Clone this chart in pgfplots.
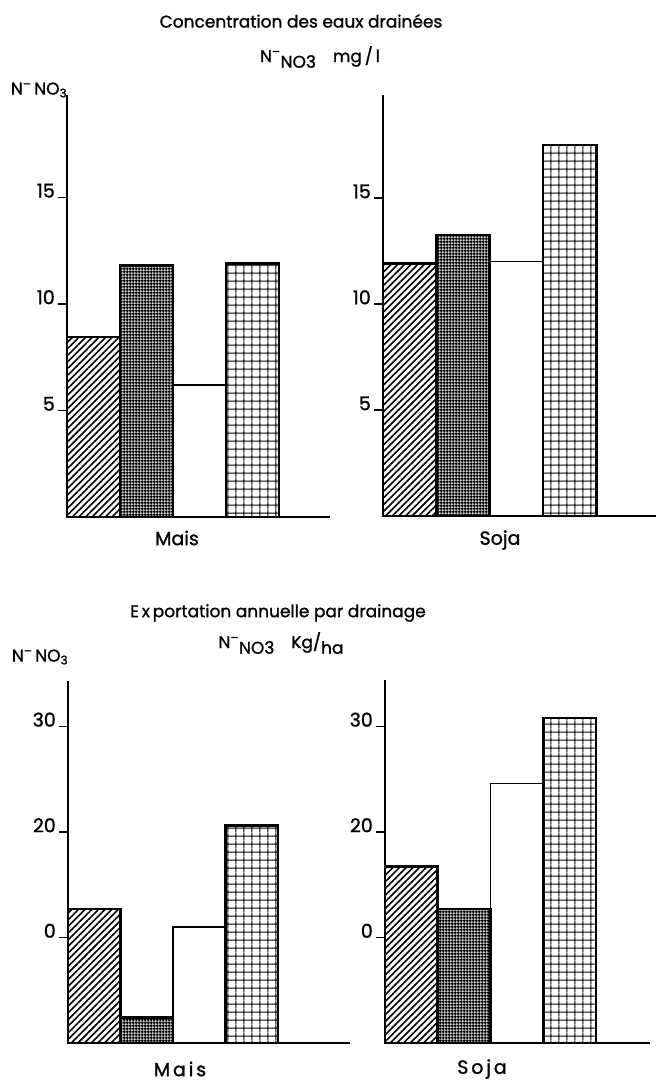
\documentclass[border=0pt]{standalone}
\usepackage{fontspec}
\setmainfont{Poppins}[FakeBold=1.2,AutoFakeBold=1.2]
\usepackage{graphicx}
\usepackage{pgfplots}
\pgfplotsset{compat=1.18}
\usetikzlibrary{patterns,patterns.meta}
\pgfdeclarepatternformonly{finegrid}{\pgfpointorigin}{\pgfqpoint{2.8pt}{2.8pt}}{\pgfqpoint{2.8pt}{2.8pt}}{%
  \pgfpathrectangle{\pgfqpoint{0pt}{0.6pt}}{\pgfqpoint{2.8pt}{1.6pt}}%
  \pgfpathrectangle{\pgfqpoint{0.6pt}{0pt}}{\pgfqpoint{1.6pt}{2.8pt}}%
  \pgfusepath{fill}}
\pgfdeclarepatternformonly{widegrid}{\pgfpointorigin}{\pgfqpoint{8.3pt}{8.3pt}}{\pgfqpoint{8.3pt}{8.3pt}}{%
  \pgfpathrectangle{\pgfqpoint{0pt}{3.55pt}}{\pgfqpoint{8.3pt}{1.2pt}}%
  \pgfpathrectangle{\pgfqpoint{3.55pt}{0pt}}{\pgfqpoint{1.2pt}{8.3pt}}%
  \pgfusepath{fill}}
\newcommand{\fs}{\fontsize{17}{20}\selectfont\bfseries}
\newcommand{\ft}{\fontsize{19}{22}\selectfont\bfseries}
\pgfplotsset{
  panel/.style={
    scale only axis, clip=false,
    axis x line=bottom, axis y line=left,
    axis line style={-, line width=2pt},
    xmin=0, ymin=0, xtick=\empty,
    ybar, bar width=1, bar shift=0pt,
    tick align=outside, major tick length=9pt,
    every tick/.style={line width=1.4pt, black},
    tick label style={font=\ft},
    /pgf/number format/assume math mode=true,
    yticklabel style={anchor=south east, inner sep=1pt, xshift=-2pt, yshift=-1.5pt},
  },
  hatchA/.style={draw=black, line width=2.6pt, pattern={Lines[angle=45,distance=4.7pt,line width=1.6pt]}},
  hatchB/.style={draw=black, line width=2.6pt, pattern=finegrid},
  hatchC/.style={draw=black, line width=1.6pt, fill=white},
  hatchD/.style={draw=black, line width=2.6pt, pattern=widegrid},
}
\begin{document}
\begin{tikzpicture}[x=1pt,y=1pt]
\useasboundingbox (0,0) rectangle (658,1081);
% ---------- top left: Mais concentration
\begin{axis}[panel, at={(67pt,564pt)}, anchor=origin, width=263pt, height=422pt,
  xmax=4.96, ymax=19.8, ytick={5,10,15}]
\addplot[hatchC] coordinates {(2.5,6.2)};
\addplot[hatchA] coordinates {(0.5,8.45)};
\addplot[hatchB] coordinates {(1.5,11.8)};
\addplot[hatchD] coordinates {(3.5,11.9)};
\end{axis}
% ---------- top right: Soja concentration
\begin{axis}[panel, at={(383pt,565pt)}, anchor=origin, width=273pt, height=421pt,
  xmax=5.12, ymax=19.86, ytick={5,10,15}]
\addplot[hatchC] coordinates {(2.5,12.0)};
\addplot[hatchA] coordinates {(0.5,11.9)};
\addplot[hatchB] coordinates {(1.5,13.25)};
\addplot[hatchD] coordinates {(3.5,17.5)};
\end{axis}
% ---------- bottom left: Mais export
\begin{axis}[panel, at={(68pt,38pt)}, anchor=origin, width=282pt, height=362pt,
  xmax=5.37, ymax=34.3, ytick={10,20,30}, yticklabels={0,20,30}]
\addplot[hatchC] coordinates {(2.5,11.0)};
\addplot[hatchA] coordinates {(0.5,12.7)};
\addplot[hatchB] coordinates {(1.5,2.4)};
\addplot[hatchD] coordinates {(3.5,20.6)};
\end{axis}
% ---------- bottom right: Soja export
\begin{axis}[panel, at={(385pt,38pt)}, anchor=origin, width=265pt, height=363pt,
  xmax=5.02, ymax=34.4, ytick={10,20,30}, yticklabels={0,20,30}]
\addplot[hatchC] coordinates {(2.5,24.6)};
\addplot[hatchA] coordinates {(0.5,16.7)};
\addplot[hatchB] coordinates {(1.5,12.7)};
\addplot[hatchD] coordinates {(3.5,30.8)};
\end{axis}
% ---------- texts
\node[font=\fs] at (301,1060) {Concentration des eaux drainées};
\node[font=\fs] at (320,1024) {N\textsuperscript{–}\raisebox{-0.6ex}{NO3}\quad mg\,/\,l};
\node[font=\fs] at (39,991) {N\textsuperscript{–}\,NO\textsubscript{3}};
\node[font=\ft] at (177,543) {Mais};
\node[font=\ft] at (500,541) {Soja};
\node[font=\fs] at (278,468) {E\,x\,portation annuelle par drainage};
\node[font=\fs] at (281,438) {N\textsuperscript{–}\raisebox{-0.6ex}{NO3}\quad Kg/\raisebox{-0.6ex}{ha}};
\node[font=\fs] at (40,424) {N\textsuperscript{–}\,NO\textsubscript{3}};
\node[font=\ft\addfontfeature{LetterSpace=15}] at (180,12) {Mais};
\node[font=\ft\addfontfeature{LetterSpace=15}] at (482,12) {Soja};
\end{tikzpicture}
\end{document}
